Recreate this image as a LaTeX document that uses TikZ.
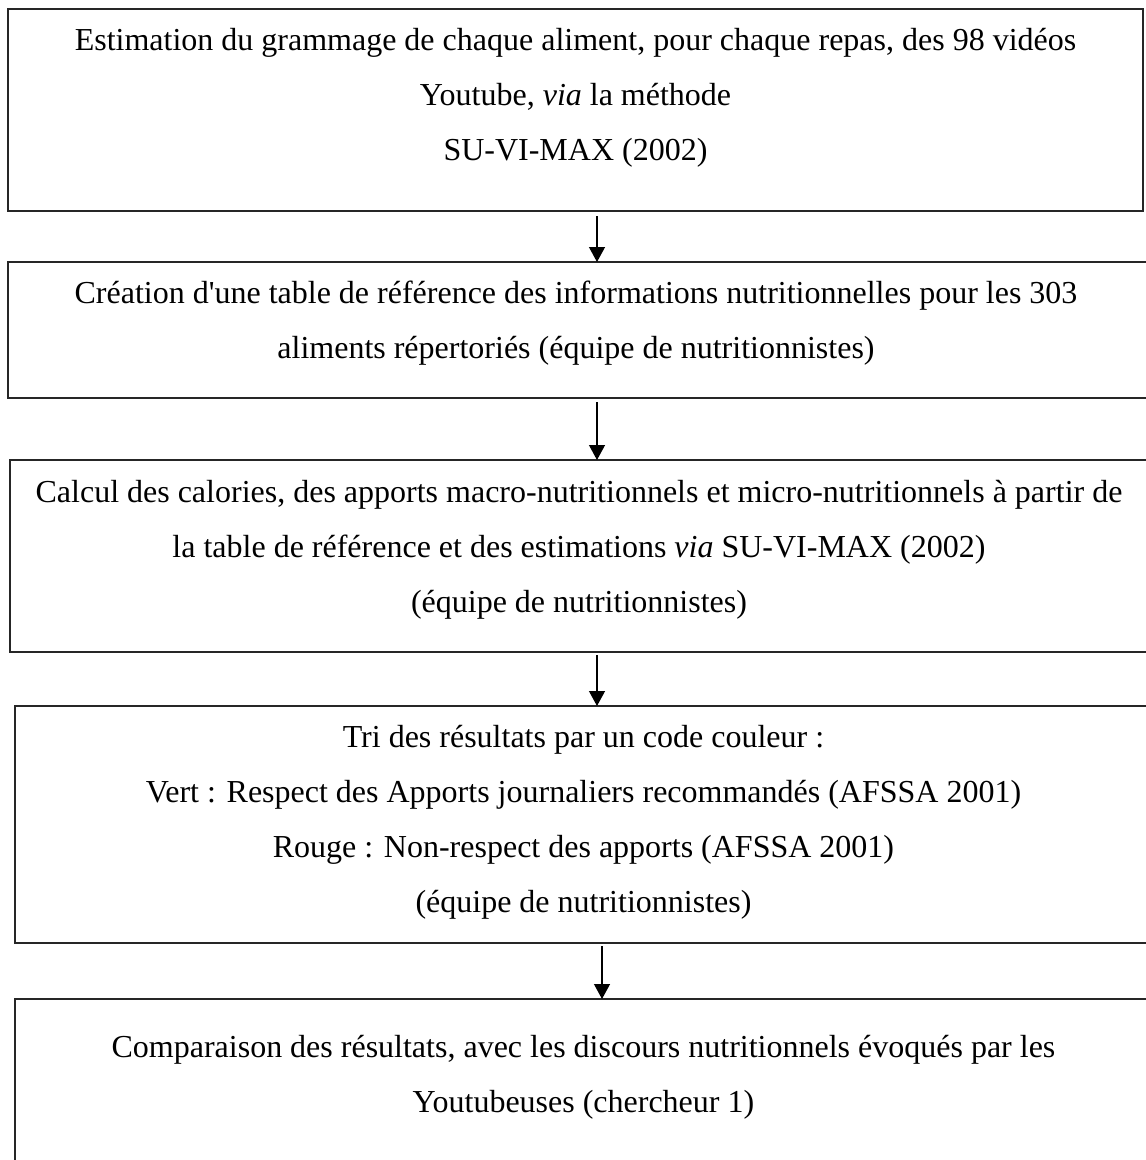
\documentclass[tikz,border=0pt]{standalone}
\usepackage{fontspec}
\setmainfont{Liberation Serif}
\usetikzlibrary{arrows.meta}
\tikzset{
  boxnode/.style={draw=black!85, line width=1.2pt, rectangle, inner sep=0pt, outer sep=0pt, anchor=north west},
  txt/.style={anchor=base, inner sep=0pt, outer sep=0pt, font=\fontsize{32}{55.2}\selectfont},
  arr/.style={draw=black, line width=1.2pt, -{Triangle[width=16pt,length=15pt]}}
}
\newcommand{\tline}[1]{\parbox[t]{1200pt}{\centering #1}}
\begin{document}
\begin{tikzpicture}[x=1pt,y=-1pt]
\useasboundingbox (0,0) rectangle (1146,1160);
% boxes
\node[boxnode, minimum width=1135pt, minimum height=202pt] (b1) at (8,9) {};
\node[boxnode, minimum width=1140pt, minimum height=136pt] (b2) at (8,262) {};
\node[boxnode, minimum width=1140pt, minimum height=192pt] (b3) at (10,460) {};
\node[boxnode, minimum width=1140pt, minimum height=237pt] (b4) at (15,706) {};
\node[boxnode, minimum width=1140pt, minimum height=200pt] (b5) at (15,999) {};
% texts
\node[txt] (t1) at (575.5,50) {\tline{Estimation du grammage de chaque aliment, pour chaque repas, des 98 vidéos\\Youtube, \textit{via} la méthode\\ SU-VI-MAX (2002)}};
\node[txt] (t2) at (576,303) {\tline{Création d\textquotesingle une table de référence des informations nutritionnelles pour les 303\\aliments répertoriés (équipe de nutritionnistes)}};
\node[txt] (t3) at (579,502) {\tline{Calcul des calories, des apports macro-nutritionnels et micro-nutritionnels à partir de\\la table de référence et des estimations \textit{via} SU-VI-MAX (2002)\\(équipe de nutritionnistes)}};
\node[txt] (t4) at (583.5,747) {\tline{Tri des résultats par un code couleur :\\Vert : Respect des Apports journaliers recommandés (AFSSA 2001)\\Rouge : Non-respect des apports (AFSSA 2001)\\(équipe de nutritionnistes)}};
\node[txt] (t5) at (583.5,1057) {\tline{Comparaison des résultats, avec les discours nutritionnels évoqués par les\\Youtubeuses (chercheur 1)}};
% arrows
\draw[arr] ([xshift=589pt,yshift=-5pt]b1.south west) coordinate (s1) -- (s1 |- b2.north);
\draw[arr] ([xshift=589pt,yshift=-4pt]b2.south west) coordinate (s2) -- (s2 |- b3.north);
\draw[arr] ([xshift=587pt,yshift=-3pt]b3.south west) coordinate (s3) -- (s3 |- b4.north);
\draw[arr] ([xshift=587pt,yshift=-3pt]b4.south west) coordinate (s4) -- (s4 |- b5.north);
\end{tikzpicture}
\end{document}
